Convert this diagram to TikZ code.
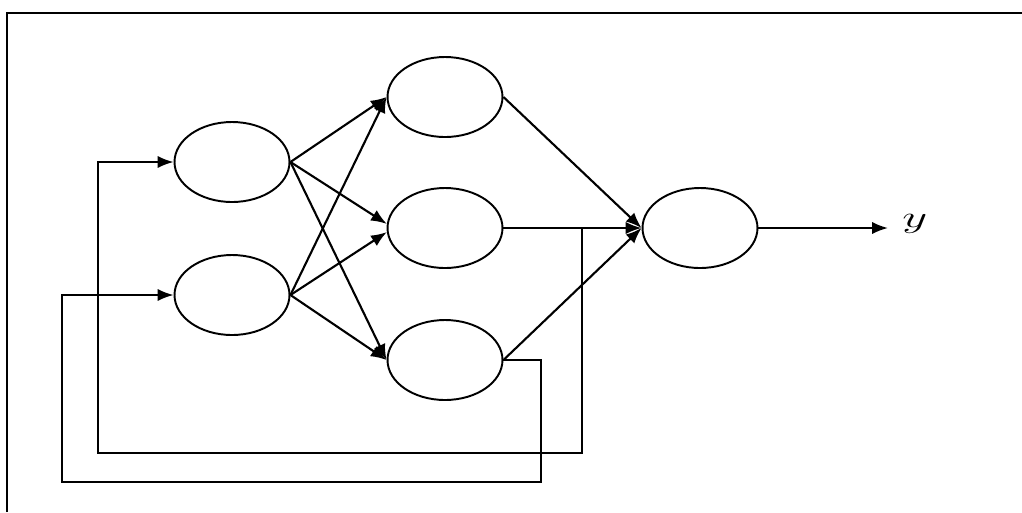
\documentclass[tikz,border=0pt]{standalone}
\usetikzlibrary{shapes.geometric,arrows.meta}
\begin{document}
\begin{tikzpicture}[x=0.02cm,y=-0.02cm,
  neuron/.style={ellipse,draw,line width=1.1pt,minimum width=2.3cm,minimum height=1.6cm,inner sep=0pt},
  conn/.style={line width=1.2pt,-{Latex[length=9pt,width=7pt]}},
  wire/.style={line width=1.2pt}]
\useasboundingbox (0,0) rectangle (1022,512);
\draw[line width=1.3pt] (7,512) -- (7,13) -- (1022,13);
\node[neuron] (i1) at (232,162) {};
\node[neuron] (i2) at (232,295) {};
\node[neuron] (h1) at (445,97) {};
\node[neuron] (h2) at (445,228) {};
\node[neuron] (h3) at (445,360) {};
\node[neuron] (o) at (700,228) {};
\node[font=\fontsize{19}{21}\selectfont,anchor=west,inner sep=0pt] (y) at (902,224) {\scalebox{1.6}[1]{$y$}};
\coordinate (yend) at (888,228);
\coordinate (f1) at (582,228);
% input to hidden
\draw[conn] (i1.east) -- (h1.west);
\draw[conn] (i1.east) -- (h2.176);
\draw[conn] (i1.east) -- (h3.west);
\draw[conn] (i2.east) -- (h1.west);
\draw[conn] (i2.east) -- (h2.184);
\draw[conn] (i2.east) -- (h3.west);
% hidden to output
\draw[conn] (h1.east) -- (o.west);
\draw[conn] (h2.east) -- (o.west);
\draw[conn] (h3.east) -- (o.west);
% output
\draw[conn] (o.east) -- (yend);
% feedback
\draw[conn] (f1) -- (582,453) -- (98,453) |- (i1.west);
\draw[conn] (h3.east) -- (541,360) -- (541,482) -- (62,482) |- (i2.west);
\end{tikzpicture}
\end{document}
